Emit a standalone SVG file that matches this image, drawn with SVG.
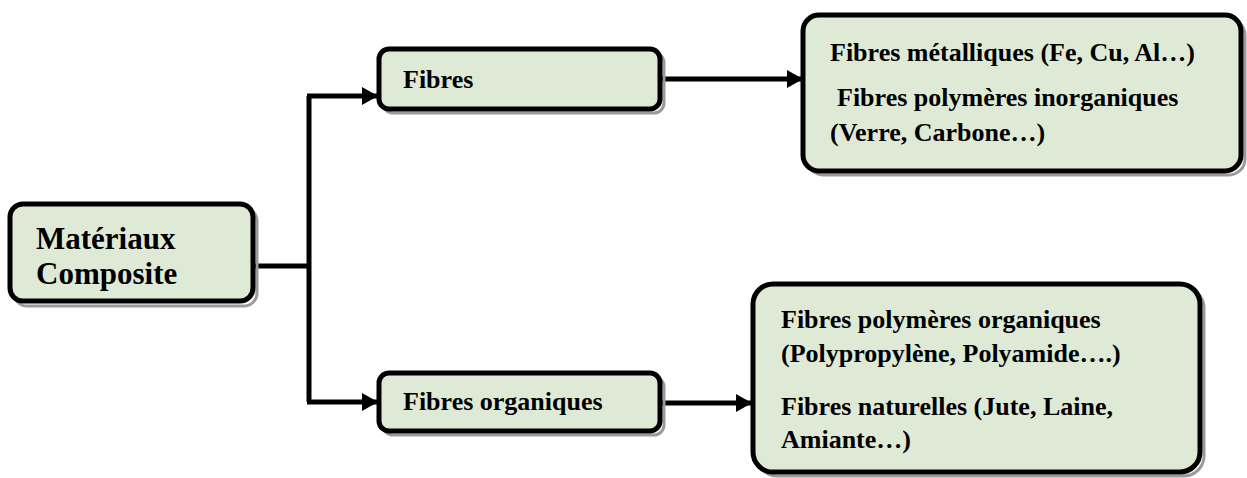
<svg xmlns="http://www.w3.org/2000/svg" width="1247" height="478" viewBox="0 0 1247 478">
  <defs>
    <marker id="arrow" markerWidth="16" markerHeight="18" refX="15" refY="9" orient="auto" markerUnits="userSpaceOnUse">
      <path d="M0,0 L16,9 L0,18 Z" fill="#000"/>
    </marker>
  </defs>
  <style>
    .box { fill: #dfead6; stroke: #000; stroke-width: 5; }
    .shadow { fill: none; stroke: #9a9a9a; stroke-width: 3; }
    .label { font-family: "Liberation Serif", "Times New Roman", serif; font-weight: bold; fill: #000; }
    .link { fill: none; stroke: #000; stroke-width: 5; }
  </style>
  <rect width="1247" height="478" fill="#fff"/>

  <!-- tree connectors -->
  <g id="connectors">
    <polyline class="link" points="253,266 309,266"/>
    <polyline class="link" points="309,96 309,402"/>
    <polyline class="link" points="307,96 377,96" marker-end="url(#arrow)"/>
    <polyline class="link" points="307,402 377,402" marker-end="url(#arrow)"/>
    <polyline class="link" points="660,79 802,79" marker-end="url(#arrow)"/>
    <polyline class="link" points="660,403 751,403" marker-end="url(#arrow)"/>
  </g>

  <g id="materiaux">
    <rect class="shadow" x="14" y="208" width="243" height="98" rx="13"/>
    <rect class="box" x="10" y="204" width="243" height="97" rx="13"/>
    <text class="label" font-size="31" x="36" y="249">Matériaux</text>
    <text class="label" font-size="31" x="36" y="284">Composite</text>
  </g>

  <g id="fibres">
    <rect class="shadow" x="383" y="53" width="281" height="60" rx="10"/>
    <rect class="box" x="379" y="49" width="281" height="60" rx="10"/>
    <text class="label" font-size="26" x="403" y="88">Fibres</text>
  </g>

  <g id="fibres-organiques">
    <rect class="shadow" x="383" y="377" width="281" height="58" rx="10"/>
    <rect class="box" x="379" y="373" width="281" height="58" rx="10"/>
    <text class="label" font-size="26" x="403" y="410">Fibres organiques</text>
  </g>

  <g id="fibres-inorganiques">
    <rect class="shadow" x="807" y="19" width="438" height="156" rx="16"/>
    <rect class="box" x="803" y="15" width="438" height="156" rx="16"/>
    <text class="label" font-size="26" x="830" y="61">Fibres métalliques (Fe, Cu, Al…)</text>
    <text class="label" font-size="26" x="837" y="106">Fibres polymères inorganiques</text>
    <text class="label" font-size="26" x="830" y="141">(Verre, Carbone…)</text>
  </g>

  <g id="fibres-organiques-detail">
    <rect class="shadow" x="757" y="288" width="447" height="188" rx="20"/>
    <rect class="box" x="753" y="284" width="447" height="188" rx="20"/>
    <text class="label" font-size="26" x="781" y="328">Fibres polymères organiques</text>
    <text class="label" font-size="26" x="781" y="362">(Polypropylène, Polyamide….)</text>
    <text class="label" font-size="26" x="781" y="415">Fibres naturelles (Jute, Laine,</text>
    <text class="label" font-size="26" x="781" y="448">Amiante…)</text>
  </g>
</svg>
